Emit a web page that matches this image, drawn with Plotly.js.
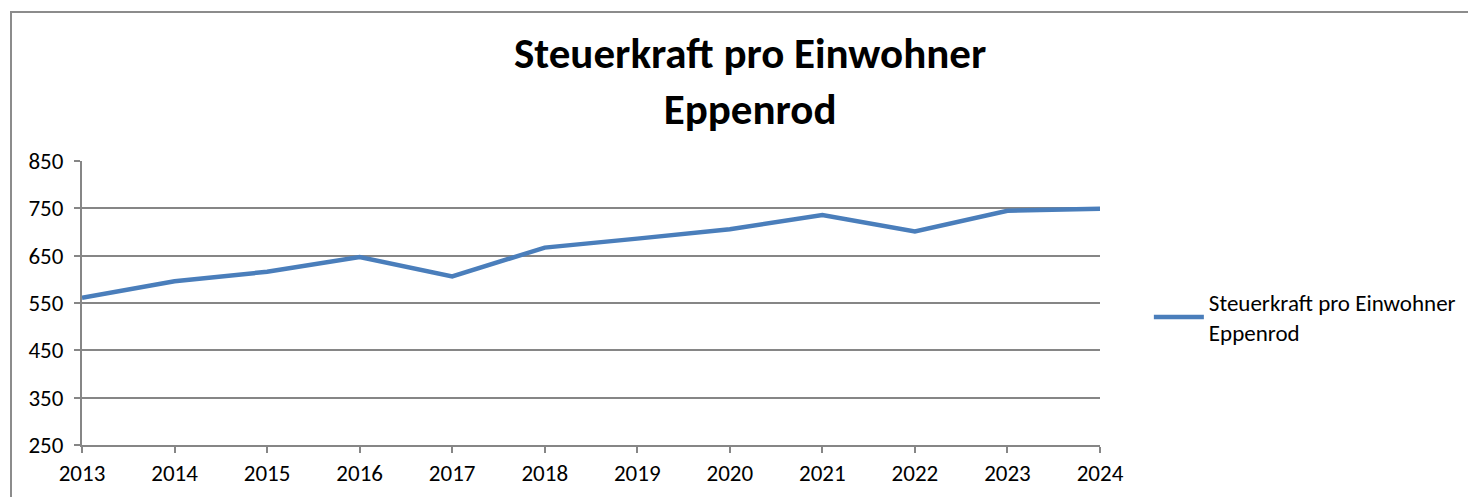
<!DOCTYPE html>
<html>
<head>
<meta charset="utf-8">
<script src="https://cdn.plot.ly/plotly-3.0.1.min.js"></script>
<style>
html,body{margin:0;padding:0;background:#fff;}
#wrap{position:relative;width:1468px;height:497px;overflow:hidden;}
#chart{width:1468px;height:497px;}
#frame{position:absolute;left:10px;top:11px;width:1470px;height:500px;border-left:2px solid #8c8c8c;border-top:2px solid #8c8c8c;pointer-events:none;}
</style>
</head>
<body>
<div id="wrap">
<div id="chart"></div>
<div id="frame"></div>
</div>
<script>
const years = [2013, 2014, 2015, 2016, 2017, 2018, 2019, 2020, 2021, 2022, 2023, 2024];
const steuerkraft = [561, 596, 616, 647, 606, 667, 686, 706, 736, 701, 745, 749];
const seriesName = "Steuerkraft pro Einwohner<br>Eppenrod";
const yTicks = [250, 350, 450, 550, 650, 750, 850];

const font = "Carlito, Calibri, 'Open Sans', 'Noto Sans', sans-serif";

Plotly.newPlot("chart", [{
  x: years,
  y: steuerkraft,
  type: "scatter",
  mode: "lines",
  name: seriesName,
  line: {color: "#4a7ebb", width: 4.5}
}], {
  width: 1468,
  height: 497,
  paper_bgcolor: "#ffffff",
  plot_bgcolor: "#ffffff",
  margin: {l: 82, r: 368, t: 161, b: 52, autoexpand: false},
  title: {
    text: "<b>Steuerkraft pro Einwohner<br>Eppenrod</b>",
    font: {family: font, size: 43, color: "#000"},
    x: 0.511, xanchor: "center",
    y: 0.863, yanchor: "middle"
  },
  showlegend: true,
  legend: {
    x: 1.048, xanchor: "left",
    y: 0.45, yanchor: "middle",
    font: {family: font, size: 23, color: "#000"},
    itemwidth: 50
  },
  xaxis: {
    range: [2013, 2024],
    tickmode: "array",
    tickvals: years,
    ticktext: years.map(String),
    ticks: "outside",
    ticklen: 6,
    tickcolor: "#868686",
    tickwidth: 2,
    showline: true,
    linecolor: "#868686",
    linewidth: 2,
    showgrid: false,
    zeroline: false,
    automargin: false,
    tickfont: {family: font, size: 23, color: "#000"}
  },
  yaxis: {
    range: [250, 850],
    tickmode: "array",
    tickvals: yTicks,
    ticks: "outside",
    ticklen: 6,
    tickcolor: "#868686",
    tickwidth: 2,
    showline: true,
    linecolor: "#868686",
    linewidth: 2,
    showgrid: true,
    gridcolor: "#868686",
    gridwidth: 2,
    zeroline: false,
    automargin: false,
    tickfont: {family: font, size: 23, color: "#000"},
    ticklabelstandoff: 6
  }
}, {displayModeBar: false, staticPlot: true});
</script>
</body>
</html>
